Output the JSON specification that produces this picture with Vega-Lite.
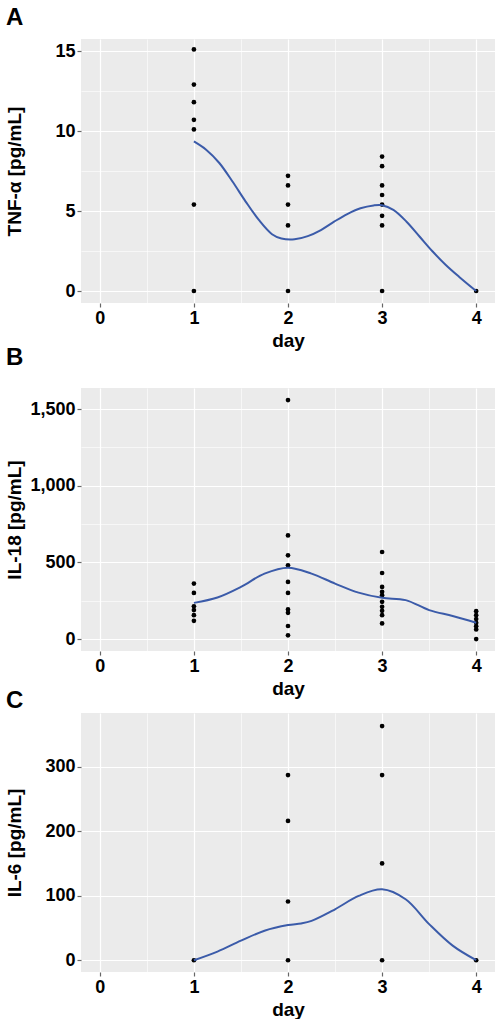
{
  "$schema": "https://vega.github.io/schema/vega-lite/v6.json",
  "padding": {"left": 5, "top": 6, "right": 2, "bottom": 0},
  "background": "white",
  "config": {
    "font": "Liberation Sans",
    "view": {"fill": "#EBEBEB", "stroke": null},
    "title": {"fontSize": 24, "fontWeight": "bold", "color": "#000", "anchor": "start", "frame": "bounds"},
    "axis": {
      "domain": false,
      "gridColor": "white",
      "labelFontSize": 18,
      "labelFontWeight": "bold",
      "labelColor": "#000",
      "labelPadding": 2,
      "tickColor": "#666",
      "tickSize": 4,
      "titleFontSize": 19,
      "titleFontWeight": "bold",
      "titleColor": "#000"
    }
  },
  "datasets": {
    "tnfPoints": [
      {"day": 1, "value": 15.1}, {"day": 1, "value": 12.9}, {"day": 1, "value": 11.8},
      {"day": 1, "value": 10.7}, {"day": 1, "value": 10.1}, {"day": 1, "value": 5.4},
      {"day": 1, "value": 0},
      {"day": 2, "value": 7.2}, {"day": 2, "value": 6.6}, {"day": 2, "value": 5.4},
      {"day": 2, "value": 4.1}, {"day": 2, "value": 0},
      {"day": 3, "value": 8.4}, {"day": 3, "value": 7.8}, {"day": 3, "value": 6.6},
      {"day": 3, "value": 6.0}, {"day": 3, "value": 5.4}, {"day": 3, "value": 4.7},
      {"day": 3, "value": 4.1}, {"day": 3, "value": 0},
      {"day": 4, "value": 0}
    ],
    "tnfSmooth": [
      {"day": 1.0, "value": 9.35}, {"day": 1.13, "value": 8.83}, {"day": 1.27, "value": 8.0},
      {"day": 1.41, "value": 6.84}, {"day": 1.55, "value": 5.59}, {"day": 1.69, "value": 4.44},
      {"day": 1.83, "value": 3.55}, {"day": 1.93, "value": 3.28}, {"day": 2.07, "value": 3.23},
      {"day": 2.21, "value": 3.43}, {"day": 2.35, "value": 3.81}, {"day": 2.49, "value": 4.33},
      {"day": 2.63, "value": 4.81}, {"day": 2.77, "value": 5.17}, {"day": 2.91, "value": 5.35},
      {"day": 3.0, "value": 5.36}, {"day": 3.12, "value": 5.07}, {"day": 3.26, "value": 4.33},
      {"day": 3.4, "value": 3.39}, {"day": 3.54, "value": 2.45}, {"day": 3.68, "value": 1.61},
      {"day": 3.82, "value": 0.88}, {"day": 4.0, "value": 0}
    ],
    "il18Points": [
      {"day": 1, "value": 362}, {"day": 1, "value": 301}, {"day": 1, "value": 214},
      {"day": 1, "value": 189}, {"day": 1, "value": 156}, {"day": 1, "value": 119},
      {"day": 2, "value": 1559}, {"day": 2, "value": 676}, {"day": 2, "value": 546},
      {"day": 2, "value": 481}, {"day": 2, "value": 373}, {"day": 2, "value": 301},
      {"day": 2, "value": 193}, {"day": 2, "value": 171}, {"day": 2, "value": 85},
      {"day": 2, "value": 24},
      {"day": 3, "value": 568}, {"day": 3, "value": 431}, {"day": 3, "value": 340},
      {"day": 3, "value": 308}, {"day": 3, "value": 286}, {"day": 3, "value": 243},
      {"day": 3, "value": 210}, {"day": 3, "value": 184}, {"day": 3, "value": 156},
      {"day": 3, "value": 102},
      {"day": 4, "value": 182}, {"day": 4, "value": 156}, {"day": 4, "value": 130},
      {"day": 4, "value": 106}, {"day": 4, "value": 84}, {"day": 4, "value": 63},
      {"day": 4, "value": 0}
    ],
    "il18Smooth": [
      {"day": 1.0, "value": 236}, {"day": 1.25, "value": 271}, {"day": 1.5, "value": 340},
      {"day": 1.75, "value": 427}, {"day": 2.0, "value": 466}, {"day": 2.25, "value": 427},
      {"day": 2.5, "value": 362}, {"day": 2.75, "value": 303}, {"day": 3.0, "value": 269},
      {"day": 3.25, "value": 254}, {"day": 3.5, "value": 189}, {"day": 3.75, "value": 150},
      {"day": 4.0, "value": 106}
    ],
    "il6Points": [
      {"day": 1, "value": 0},
      {"day": 2, "value": 287}, {"day": 2, "value": 216}, {"day": 2, "value": 91},
      {"day": 2, "value": 0},
      {"day": 3, "value": 363}, {"day": 3, "value": 287}, {"day": 3, "value": 150},
      {"day": 3, "value": 0},
      {"day": 4, "value": 0}
    ],
    "il6Smooth": [
      {"day": 1.0, "value": 0}, {"day": 1.25, "value": 13.4}, {"day": 1.5, "value": 30.3},
      {"day": 1.75, "value": 45.7}, {"day": 2.0, "value": 54.5}, {"day": 2.14, "value": 57},
      {"day": 2.25, "value": 61}, {"day": 2.5, "value": 79}, {"day": 2.75, "value": 99.7},
      {"day": 3.0, "value": 110}, {"day": 3.25, "value": 94.5}, {"day": 3.5, "value": 56},
      {"day": 3.75, "value": 22.6}, {"day": 4.0, "value": 0}
    ]
  },
  "spacing": -4,
  "vconcat": [
    {
      "width": 414,
      "height": 264,
      "title": {"text": "A", "offset": 9},
      "layer": [
        {
          "data": {"name": "tnfPoints"},
          "mark": {"type": "circle", "size": 22, "color": "#000", "opacity": 1},
          "encoding": {
            "x": {
              "field": "day", "type": "quantitative", "title": "day",
              "scale": {"domain": [-0.2, 4.2], "nice": false, "zero": false},
              "axis": {
                "values": [0, 0.5, 1, 1.5, 2, 2.5, 3, 3.5, 4],
                "labelExpr": "datum.value % 1 === 0 ? format(datum.value, 'd') : ''",
                "gridWidth": {"condition": {"test": "datum.value % 1 !== 0", "value": 0.6}, "value": 1.2},
                "tickWidth": {"condition": {"test": "datum.value % 1 !== 0", "value": 0}, "value": 1.2},
                "titlePadding": 4
              }
            },
            "y": {
              "field": "value", "type": "quantitative", "title": "TNF-α [pg/mL]",
              "scale": {"domain": [-0.75, 15.75], "nice": false, "zero": false},
              "axis": {
                "values": [0, 2.5, 5, 7.5, 10, 12.5, 15],
                "labelExpr": "datum.value % 5 === 0 ? format(datum.value, 'd') : ''",
                "gridWidth": {"condition": {"test": "datum.value % 5 !== 0", "value": 0.6}, "value": 1.2},
                "tickWidth": {"condition": {"test": "datum.value % 5 !== 0", "value": 0}, "value": 1.2},
                "titlePadding": 30
              }
            }
          }
        },
        {
          "data": {"name": "tnfSmooth"},
          "mark": {"type": "line", "color": "#3B5BA9", "strokeWidth": 2, "interpolate": "catmull-rom"},
          "encoding": {
            "x": {"field": "day", "type": "quantitative"},
            "y": {"field": "value", "type": "quantitative"}
          }
        }
      ]
    },
    {
      "spacing": -9,
      "vconcat": [
        {
          "width": 414,
          "height": 263,
          "title": {"text": "B", "offset": 18},
          "layer": [
            {
              "data": {"name": "il18Points"},
              "mark": {"type": "circle", "size": 22, "color": "#000", "opacity": 1},
              "encoding": {
                "x": {
                  "field": "day", "type": "quantitative", "title": "day",
                  "scale": {"domain": [-0.2, 4.2], "nice": false, "zero": false},
                  "axis": {
                    "values": [0, 0.5, 1, 1.5, 2, 2.5, 3, 3.5, 4],
                    "labelExpr": "datum.value % 1 === 0 ? format(datum.value, 'd') : ''",
                    "gridWidth": {"condition": {"test": "datum.value % 1 !== 0", "value": 0.6}, "value": 1.2},
                    "tickWidth": {"condition": {"test": "datum.value % 1 !== 0", "value": 0}, "value": 1.2},
                    "titlePadding": 4
                  }
                },
                "y": {
                  "field": "value", "type": "quantitative", "title": "IL-18 [pg/mL]",
                  "scale": {"domain": [-78, 1638], "nice": false, "zero": false},
                  "axis": {
                    "values": [0, 250, 500, 750, 1000, 1250, 1500],
                    "labelExpr": "datum.value % 500 === 0 ? format(datum.value, ',') : ''",
                    "gridWidth": {"condition": {"test": "datum.value % 500 !== 0", "value": 0.6}, "value": 1.2},
                    "tickWidth": {"condition": {"test": "datum.value % 500 !== 0", "value": 0}, "value": 1.2},
                    "titlePadding": 5
                  }
                }
              }
            },
            {
              "data": {"name": "il18Smooth"},
              "mark": {"type": "line", "color": "#3B5BA9", "strokeWidth": 2, "interpolate": "catmull-rom"},
              "encoding": {
                "x": {"field": "day", "type": "quantitative"},
                "y": {"field": "value", "type": "quantitative"}
              }
            }
          ]
        },
        {
          "width": 414,
          "height": 259,
          "title": {"text": "C", "offset": 0},
          "layer": [
            {
              "data": {"name": "il6Points"},
              "mark": {"type": "circle", "size": 22, "color": "#000", "opacity": 1},
              "encoding": {
                "x": {
                  "field": "day", "type": "quantitative", "title": "day",
                  "scale": {"domain": [-0.2, 4.2], "nice": false, "zero": false},
                  "axis": {
                    "values": [0, 0.5, 1, 1.5, 2, 2.5, 3, 3.5, 4],
                    "labelExpr": "datum.value % 1 === 0 ? format(datum.value, 'd') : ''",
                    "gridWidth": {"condition": {"test": "datum.value % 1 !== 0", "value": 0.6}, "value": 1.2},
                    "tickWidth": {"condition": {"test": "datum.value % 1 !== 0", "value": 0}, "value": 1.2},
                    "titlePadding": 4
                  }
                },
                "y": {
                  "field": "value", "type": "quantitative", "title": "IL-6 [pg/mL]",
                  "scale": {"domain": [-18.25, 383.25], "nice": false, "zero": false},
                  "axis": {
                    "values": [0, 50, 100, 150, 200, 250, 300, 350],
                    "labelExpr": "datum.value % 100 === 0 ? format(datum.value, 'd') : ''",
                    "gridWidth": {"condition": {"test": "datum.value % 100 !== 0", "value": 0.6}, "value": 1.2},
                    "tickWidth": {"condition": {"test": "datum.value % 100 !== 0", "value": 0}, "value": 1.2},
                    "titlePadding": 20
                  }
                }
              }
            },
            {
              "data": {"name": "il6Smooth"},
              "mark": {"type": "line", "color": "#3B5BA9", "strokeWidth": 2, "interpolate": "catmull-rom"},
              "encoding": {
                "x": {"field": "day", "type": "quantitative"},
                "y": {"field": "value", "type": "quantitative"}
              }
            }
          ]
        }
      ]
    }
  ]
}
